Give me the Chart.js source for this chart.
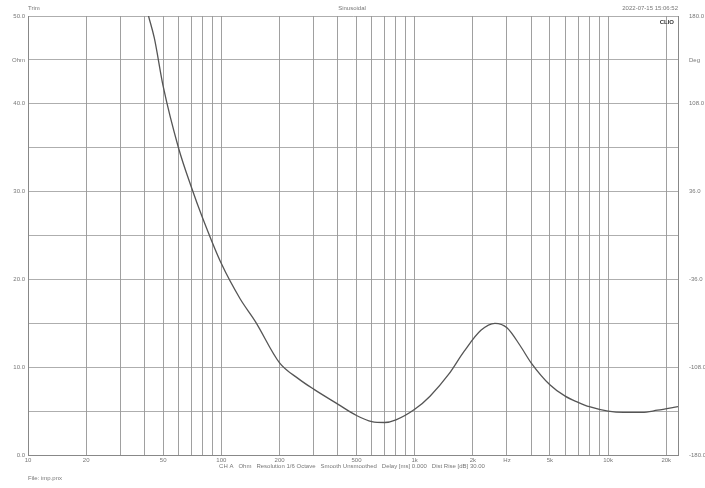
<!DOCTYPE html><html><head><script src="https://cdn.jsdelivr.net/npm/chart.js@4"></script>
<style>body{margin:0;background:#fff}#w{width:705px;height:488px}</style></head><body><div id="w"><canvas id="c"></canvas></div>
<script>
const freqs=[42,45,50,60,70,80,100,125,150,200,250,300,400,500,600,700,800,1000,1200,1500,1800,2200,2600,3000,3500,4000,5000,6000,7000,8000,10000,12000,15000,18000,23000];
const ohms=[50,47.5,42,35,30.5,27,21.8,17.8,15.2,10.5,8.7,7.5,5.8,4.5,3.8,3.7,4.0,5.2,6.7,9.2,11.8,14.2,15.0,14.5,12.5,10.5,8.0,6.7,6.0,5.5,5.0,4.85,4.85,5.1,5.5];
const xGrid=[10,20,30,40,50,60,70,80,90,100,200,300,400,500,600,700,800,900,1000,2000,3000,4000,5000,6000,7000,8000,9000,10000,20000];
const xLabels={10:'10',20:'20',50:'50',100:'100',200:'200',500:'500',1000:'1k',2000:'2k',3000:'Hz',5000:'5k',10000:'10k',20000:'20k'};
const leftLabels={0:'0.0',10:'10.0',20:'20.0',30:'30.0',40:'40.0',45:'Ohm',50:'50.0'};
const rightLabels={0:'-180.0',10:'-108.0',20:'-36.0',30:'36.0',40:'108.0',45:'Deg',50:'180.0'};
const F='Arial, Liberation Sans, sans-serif';
const txt={id:'t',afterDraw(c){const x=c.ctx;x.save();x.fillStyle='#777';x.font='6px '+F;
x.textAlign='left';x.fillText('Trim',28,10);x.fillText('File: imp.pnx',28,480);
x.textAlign='center';x.fillText('Sinusoidal',352,10);x.fillText('CH A   Ohm   Resolution 1/6 Octave   Smooth Unsmoothed   Delay [ms] 0.000   Dist Rise [dB] 30.00',352,468);
x.textAlign='right';x.fillText('2022-07-15 15:06:52',678,10);x.fillStyle='#333';x.font='bold 6px '+F;x.fillText('CLIO',674,24);x.restore();}};
new Chart(document.getElementById('c'),{type:'line',data:{datasets:[{data:freqs.map((f,i)=>({x:f,y:ohms[i]})),borderColor:'#555',borderWidth:1.3,pointRadius:0,cubicInterpolationMode:'monotone'}]},
options:{animation:false,responsive:true,maintainAspectRatio:false,layout:{padding:{top:16,bottom:0,left:0,right:0}},plugins:{legend:{display:false},tooltip:{enabled:false}},
scales:{x:{type:'logarithmic',min:10,max:23000,afterBuildTicks(a){a.ticks=xGrid.map(v=>({value:v}))},afterFit(a){a.height=33},
ticks:{autoSkip:false,maxRotation:0,font:{size:6,family:F},color:'#777',padding:2,callback:v=>xLabels[v]||''},grid:{color:'#888',lineWidth:0.8,drawTicks:false},border:{color:'#888'}},
y:{min:0,max:50,afterBuildTicks(a){a.ticks=[0,5,10,15,20,25,30,35,40,45,50].map(v=>({value:v}))},afterFit(a){a.width=28},
ticks:{font:{size:6,family:F},color:'#777',padding:3,callback:v=>leftLabels[v]||''},grid:{color:'#999',lineWidth:0.8,drawTicks:false},border:{color:'#888'}},
y2:{position:'right',min:0,max:50,afterBuildTicks(a){a.ticks=[0,10,20,30,40,45,50].map(v=>({value:v}))},afterFit(a){a.width=27},
ticks:{font:{size:6,family:F},color:'#777',padding:3,callback:v=>rightLabels[v]||''},grid:{display:false},border:{color:'#888'}}}},plugins:[txt]});
</script></body></html>
